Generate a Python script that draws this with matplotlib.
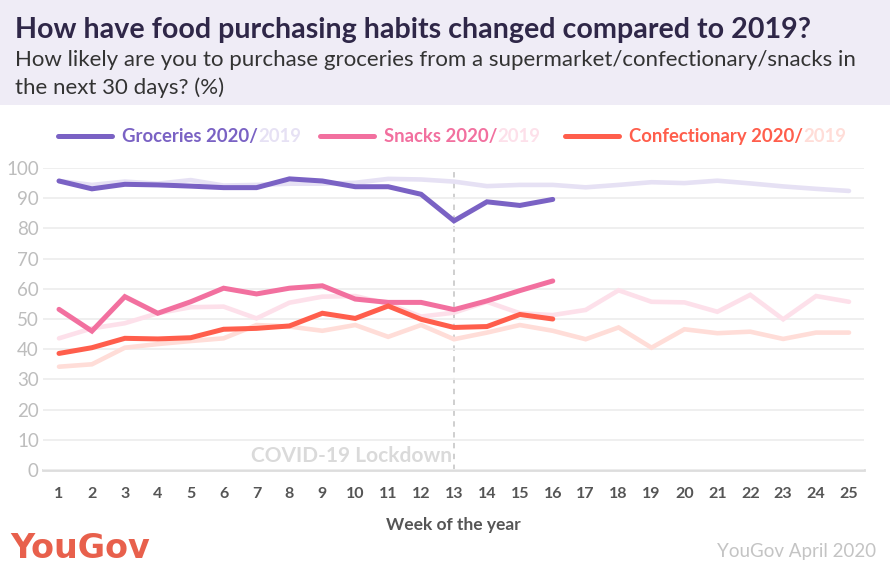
import matplotlib.pyplot as plt
from matplotlib.patches import Rectangle

weeks = list(range(1, 26))

groceries_2019 = [95.7, 94.4, 95.5, 94.8, 96.0, 94.2, 94.4, 94.8, 94.8, 95.1, 96.4, 96.2, 95.5,
                  94.0, 94.4, 94.4, 93.6, 94.4, 95.3, 95.0, 95.8, 94.9, 93.9, 93.1, 92.4]
groceries_2020 = [95.7, 93.1, 94.6, 94.4, 94.0, 93.5, 93.5, 96.4, 95.7, 93.8, 93.8, 91.3, 82.5,
                  88.8, 87.6, 89.6]

snacks_2019 = [43.6, 46.9, 48.6, 51.9, 53.9, 54.1, 50.2, 55.4, 57.4, 57.6, 55.0, 50.8, 52.1,
               55.7, 51.9, 51.3, 53.0, 59.5, 55.7, 55.5, 52.4, 58.0, 49.9, 57.6, 55.7]
snacks_2020 = [53.2, 46.0, 57.4, 51.9, 55.7, 60.2, 58.3, 60.2, 61.0, 56.6, 55.5, 55.5, 53.1,
               56.0, 59.4, 62.6]

confectionary_2019 = [34.2, 35.0, 40.5, 41.7, 42.7, 43.6, 48.0, 47.5, 46.1, 48.0, 44.1, 48.0, 43.3,
                      45.5, 48.0, 46.1, 43.3, 47.2, 40.5, 46.6, 45.3, 45.8, 43.4, 45.5, 45.5]
confectionary_2020 = [38.6, 40.5, 43.6, 43.4, 43.8, 46.6, 46.9, 47.7, 51.9, 50.2, 54.3, 49.9, 47.2,
                      47.5, 51.5, 50.0]

y_ticks = [0, 10, 20, 30, 40, 50, 60, 70, 80, 90, 100]
lockdown_week = 13

series = [
    ("Groceries", groceries_2020, groceries_2019, "#7A62C4", "#E6E1F4"),
    ("Snacks", snacks_2020, snacks_2019, "#F2709F", "#FDE0EA"),
    ("Confectionary", confectionary_2020, confectionary_2019, "#FF5E4C", "#FFDDD8"),
]

FONT = ["Lato", "DejaVu Sans"]
plt.rcParams["font.family"] = FONT

fig = plt.figure(figsize=(8.9, 5.74), dpi=100)
fig.patches.append(Rectangle((0, 1 - 105 / 574), 1, 105 / 574, transform=fig.transFigure,
                             facecolor="#EFECF6", edgecolor="none", zorder=0))

fig.text(15 / 890, 1 - 30 / 574, "How have food purchasing habits changed compared to 2019?",
         fontsize=20.6, fontweight="bold", color="#2F2748", va="center")
fig.text(15 / 890, 1 - 60 / 574,
         "How likely are you to purchase groceries from a supermarket/confectionary/snacks in",
         fontsize=16, color="#333333", va="center")
fig.text(15 / 890, 1 - 88 / 574, "the next 30 days? (%)",
         fontsize=16, color="#333333", va="center")

ax = fig.add_axes([43 / 890, 1 - 470 / 574, 821 / 890, 302 / 574])
px_per_week = (849 - 59) / 24
ax.set_xlim(1 - 16 / px_per_week, 25 + 15 / px_per_week)
ax.set_ylim(0, 100)

for name, v2020, v2019, c2020, c2019 in series:
    ax.plot(weeks[:len(v2019)], v2019, color=c2019, lw=3.3, solid_capstyle="round",
            solid_joinstyle="miter", zorder=2, clip_on=False)
for name, v2020, v2019, c2020, c2019 in series:
    ax.plot(weeks[:len(v2020)], v2020, color=c2020, lw=3.6, solid_capstyle="round",
            solid_joinstyle="miter", zorder=3, clip_on=False)

ax.set_yticks(y_ticks)
ax.set_xticks(weeks)
ax.grid(True, axis="y", color="#EEEEEE", lw=1.3, zorder=0)
ax.axhline(0, color="#DDDDDD", lw=2, zorder=1, clip_on=False)
for side in ["top", "right", "left", "bottom"]:
    ax.spines[side].set_visible(False)
ax.tick_params(axis="both", length=0)
ax.tick_params(axis="y", labelsize=13.5, labelcolor="#BDBDBD", pad=3)
ax.tick_params(axis="x", labelsize=11.5, labelcolor="#555555", pad=12)
for lbl in ax.get_xticklabels():
    lbl.set_fontweight("bold")

ax.axvline(lockdown_week, ymin=0, ymax=1, color="#CCCCCC", lw=1.3, ls=(0, (3, 3)), zorder=1)
ax.text(lockdown_week - 0.07, 4.5, "COVID-19 Lockdown", ha="right", va="center",
        fontsize=15, fontweight="bold", color="#DADADA")

ax.set_xlabel("Week of the year", fontsize=12.5, fontweight="bold", color="#555555", labelpad=12)

# legend drawn by hand: line segment, then "Name 2020/" and a faint "2019"
fig.canvas.draw()
renderer = fig.canvas.get_renderer()
legend_y = 1 - 136 / 574
legend_x = [58, 320, 565]
for (name, v2020, v2019, c2020, c2019), x0 in zip(series, legend_x):
    fig.add_artist(plt.Line2D([x0 / 890, (x0 + 54) / 890], [legend_y, legend_y],
                              transform=fig.transFigure, color=c2020, lw=3.6,
                              solid_capstyle="round"))
    t1 = fig.text((x0 + 64) / 890, legend_y, f"{name} 2020/", fontsize=13.3,
                  fontweight="bold", color=c2020, va="center")
    bb = t1.get_window_extent(renderer)
    fig.text(bb.x1 / fig.bbox.width, legend_y, "2019", fontsize=13.3,
             fontweight="bold", color=c2019, va="center")

fig.text(10 / 890, 1 - 549 / 574, "YouGov", fontsize=24, fontweight="bold", color="#E8604C",
         va="center", family=["Liberation Sans Narrow", "DejaVu Sans"])
fig.text(876 / 890, 1 - 551 / 574, "YouGov April 2020", fontsize=13.5,
         color="#C4C4C4", ha="right", va="center")

fig.savefig("out.png", dpi=100)
